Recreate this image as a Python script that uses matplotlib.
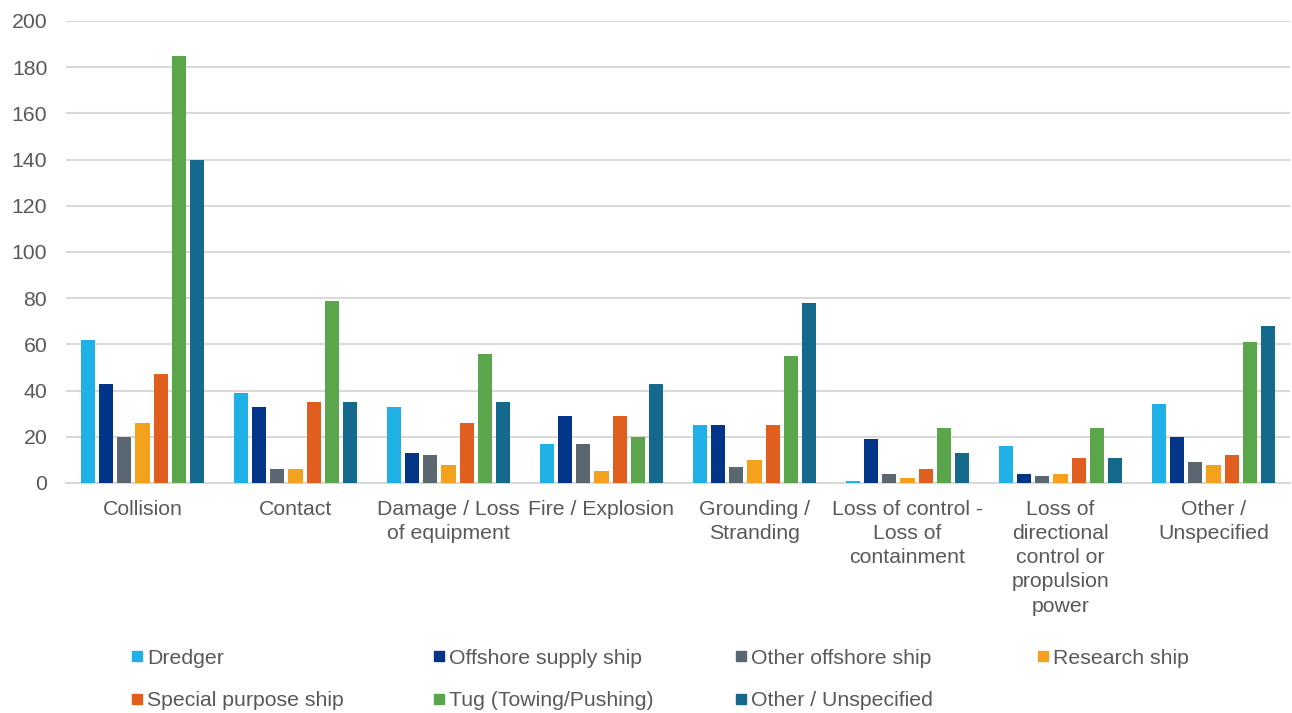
import matplotlib
matplotlib.use("Agg")
import matplotlib.pyplot as plt
import numpy as np
from matplotlib.lines import Line2D

categories = ["Collision", "Contact", "Damage / Loss\nof equipment", "Fire / Explosion",
              "Grounding /\nStranding", "Loss of control -\nLoss of\ncontainment",
              "Loss of\ndirectional\ncontrol or\npropulsion\npower", "Other /\nUnspecified"]
series_names = ["Dredger", "Offshore supply ship", "Other offshore ship", "Research ship",
                "Special purpose ship", "Tug (Towing/Pushing)", "Other / Unspecified"]
dredger = [62, 39, 33, 17, 25, 1, 16, 34]
offshore_supply = [43, 33, 13, 29, 25, 19, 4, 20]
other_offshore = [20, 6, 12, 17, 7, 4, 3, 9]
research = [26, 6, 8, 5, 10, 2, 4, 8]
special_purpose = [47, 35, 26, 29, 25, 6, 11, 12]
tug = [185, 79, 56, 20, 55, 24, 24, 61]
other_unspec = [140, 35, 35, 43, 78, 13, 11, 68]
series = [dredger, offshore_supply, other_offshore, research, special_purpose, tug, other_unspec]
colors = ["#1fb0e6", "#023587", "#5a6770", "#f4a21e", "#e05e1e", "#5ba64b", "#14698d"]

plt.rcParams['font.family'] = ['Liberation Sans', 'DejaVu Sans']
W, H = 1292, 713
fig = plt.figure(figsize=(W / 100, H / 100), dpi=100)
ax = fig.add_axes([66 / W, 1 - 483 / H, (1290 - 66) / W, (483 - 21) / H])

x = np.arange(len(categories))
step = 0.1186
width = 0.093
for i, (vals, c, name) in enumerate(zip(series, colors, series_names)):
    ax.bar(x + (i - 3) * step, vals, width=width, color=c, label=name, zorder=3,
           linewidth=0)

ax.set_xlim(-0.5, len(categories) - 0.5)
ax.set_ylim(0, 200)
ax.set_yticks(range(0, 201, 20))
ax.yaxis.grid(True, color='#d9d9d9', linewidth=1.5, zorder=0)
ax.set_axisbelow(True)
for s in ['top', 'right', 'left']:
    ax.spines[s].set_visible(False)
ax.spines['bottom'].set_color('#d9d9d9')
ax.spines['bottom'].set_linewidth(1.5)
FS = 15.3
ax.set_xticks(x)
ax.set_xticklabels(categories, fontsize=FS, color='#595959', linespacing=1.35)
ax.tick_params(axis='both', length=0, colors='#595959', labelsize=FS)
ax.tick_params(axis='x', pad=12)
ax.tick_params(axis='y', pad=13.5)

# legend entries laid out row-major, 4 per row
col_x = [131, 433, 735, 1037]
row_y = [658, 701]
for k, (c, name) in enumerate(zip(colors, series_names)):
    r, cidx = divmod(k, 4)
    h = Line2D([0], [0], marker='s', linestyle='none', markersize=7.5,
               markerfacecolor=c, markeredgecolor=c)
    fig.legend([h], [name], loc='center left',
               bbox_to_anchor=(col_x[cidx] / W, 1 - row_y[r] / H),
               frameon=False, fontsize=FS, handletextpad=0.15, handlelength=0.6,
               borderpad=0, borderaxespad=0, labelcolor='#595959')

fig.savefig("out.png", dpi=100)
